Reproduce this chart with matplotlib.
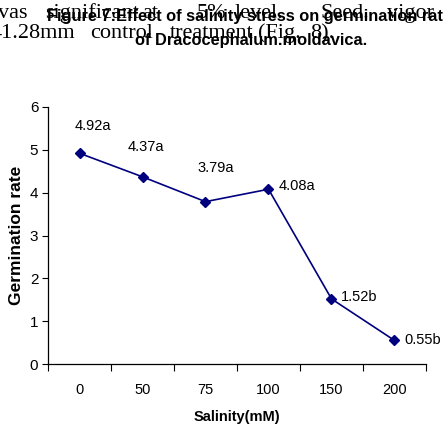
import matplotlib
matplotlib.use("Agg")
import matplotlib.pyplot as plt
import numpy as np

# data
salinity = ["0", "50", "75", "100", "150", "200"]
germination = [4.92, 4.37, 3.79, 4.08, 1.52, 0.55]
point_labels = ["4.92a", "4.37a", "3.79a", "4.08a", "1.52b", "0.55b"]
label_offsets = [(13, 27), (3, 30), (10, 34), (28, 3), (28, 2), (28, 0)]  # pixels

# scanned page text showing behind the title (word, left x in px)
page_line1 = [("vas", -2), ("significant", 45), ("at", 142), ("5%", 197),
              ("level.", 235), ("Seed.", 320), ("vigor", 387)]
page_line2 = [("41.28mm", -9), ("control", 90), ("treatment", 170),
              ("(Fig.", 258), ("8).", 310)]

plt.rcParams['font.family'] = ['Liberation Sans', 'DejaVu Sans']

W, H = 443, 429
fig = plt.figure(figsize=(W / 100, H / 100), dpi=100)
ax = fig.add_axes([48 / W, 1 - 364 / H, 378 / W, 257 / H])

x = np.arange(len(salinity))
navy = '#00007f'
ax.plot(x, germination, color=navy, lw=1.2, marker='D', ms=5.5,
        markerfacecolor=navy, markeredgecolor=navy)

for xi, yi, lab, off in zip(x, germination, point_labels, label_offsets):
    ax.annotate(lab, (xi, yi), xytext=off, textcoords='offset pixels',
                ha='center', va='center', fontsize=10.5)

ax.set_xlim(-0.5, len(salinity) - 0.5)
ax.set_ylim(0, 6)
ax.set_yticks(range(0, 7))
ax.tick_params(axis='y', labelsize=11, length=4, width=0.8, direction='out', pad=3)

# category axis: tick marks between categories, labels in the middle
ax.set_xticks(np.arange(-0.5, len(salinity)), labels=[''] * (len(salinity) + 1))
ax.set_xticks(x, labels=salinity, minor=True)
ax.tick_params(axis='x', which='major', length=5, width=0.8, direction='out')
ax.tick_params(axis='x', which='minor', length=0, labelsize=10.5, pad=14)

for s in ['top', 'right']:
    ax.spines[s].set_visible(False)
for s in ['left', 'bottom']:
    ax.spines[s].set_linewidth(0.9)

ax.set_xlabel('Salinity(mM)', fontsize=10.5, fontweight='bold', labelpad=9)
ax.set_ylabel('Germination rate', fontsize=12.5, fontweight='bold', labelpad=4)

for word, px in page_line1:
    fig.text(px / W, 1 - 18 / H, word, family='Liberation Serif', fontsize=16,
             va='baseline', ha='left')
for word, px in page_line2:
    fig.text(px / W, 1 - 38 / H, word, family='Liberation Serif', fontsize=16,
             va='baseline', ha='left')

fig.text(249 / W, 1 - 17 / H, 'Figure 7:Effect of salinity stress on germination rate',
         fontsize=11.8, fontweight='bold', ha='center', va='center')
fig.text(251 / W, 1 - 40 / H, 'of Dracocephalum.moldavica.',
         fontsize=11.8, fontweight='bold', ha='center', va='center')

fig.savefig('out.png', dpi=100)
